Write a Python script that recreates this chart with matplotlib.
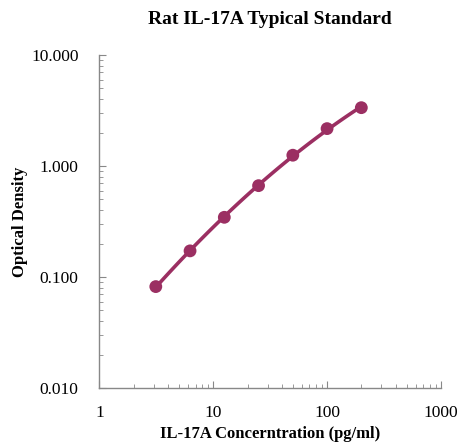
import numpy as np
import matplotlib
matplotlib.use("Agg")
import matplotlib.pyplot as plt
from matplotlib.ticker import FixedLocator, FixedFormatter, LogLocator, NullFormatter

# standard curve data
conc = [3.125, 6.25, 12.5, 25, 50, 100, 200]
od = [0.082, 0.172, 0.345, 0.665, 1.25, 2.17, 3.35]

x_ticks = [1, 10, 100, 1000]
x_labels = ["1", "10", "100", "1000"]
y_ticks = [0.01, 0.1, 1, 10]
y_labels = ["0.010", "0.100", "1.000", "10.000"]

color = "#9B2F62"
plt.rcParams['font.family'] = ['Liberation Serif', 'DejaVu Serif']

fig = plt.figure(figsize=(4.57, 4.43), dpi=100)
ax = fig.add_axes([0.2177, 0.124, 0.747, 0.752])

# fitted curve in log-log space (slight curvature like the reference)
lx = np.log10(conc)
ly = np.log10(od)
coef = np.polyfit(lx, ly, 2)
xs = np.linspace(lx[0], lx[-1], 100)
ax.plot(10 ** xs, 10 ** np.polyval(coef, xs), color=color, lw=2.6, zorder=2)
ax.scatter(conc, od, s=85, color=color, zorder=3, edgecolors='none')

ax.set_xscale('log')
ax.set_yscale('log')
ax.set_xlim(1, 1000)
ax.set_ylim(0.01, 10)

ax.xaxis.set_major_locator(FixedLocator(x_ticks))
ax.xaxis.set_major_formatter(FixedFormatter(x_labels))
ax.yaxis.set_major_locator(FixedLocator(y_ticks))
ax.yaxis.set_major_formatter(FixedFormatter(y_labels))
ax.xaxis.set_minor_locator(LogLocator(base=10, subs=np.arange(2, 10)))
ax.yaxis.set_minor_locator(LogLocator(base=10, subs=np.arange(2, 10)))
ax.xaxis.set_minor_formatter(NullFormatter())
ax.yaxis.set_minor_formatter(NullFormatter())

for s in ['top', 'right']:
    ax.spines[s].set_visible(False)
for s in ['left', 'bottom']:
    ax.spines[s].set_color('#888888')
    ax.spines[s].set_linewidth(1.0)

ax.tick_params(which='major', direction='in', length=5, color='#888888', labelsize=12.5)
ax.tick_params(axis='y', which='major', pad=15)
ax.tick_params(axis='x', which='major', pad=12)
ax.tick_params(which='minor', direction='in', length=3, color='#888888')

ax.set_title("Rat IL-17A Typical Standard", fontsize=14, fontweight='bold', pad=22)
ax.set_xlabel("IL-17A Concerntration (pg/ml)", fontsize=12, fontweight='bold', labelpad=4)
ax.set_ylabel("Optical Density", fontsize=12, fontweight='bold', labelpad=2)

fig.savefig("out.png", dpi=100)
